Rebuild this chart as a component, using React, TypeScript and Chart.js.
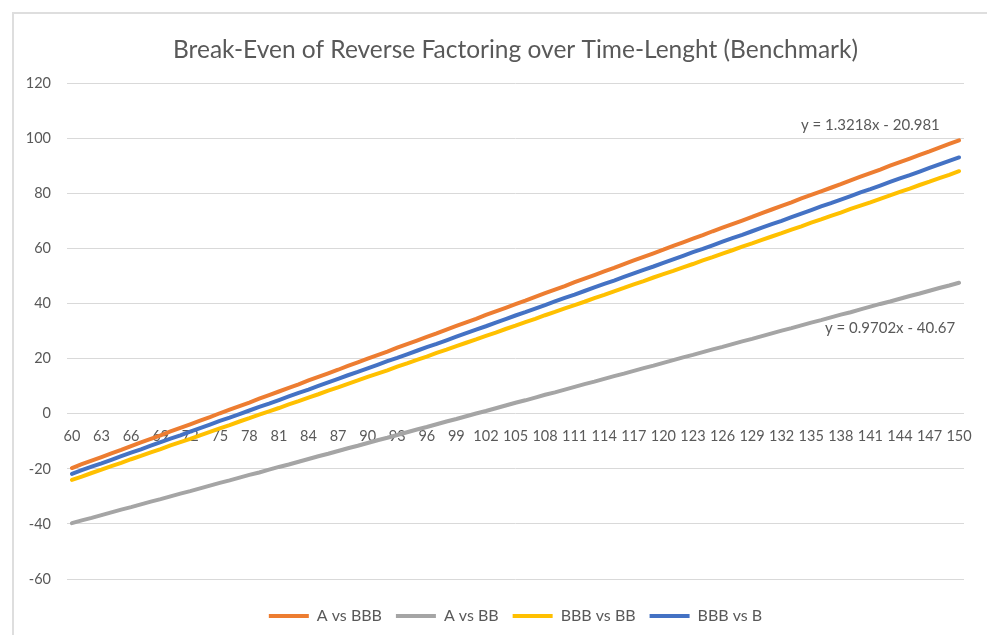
import React, { useEffect, useRef } from "react";
import { Chart, registerables } from "chart.js";

Chart.register(...registerables);

const TITLE = "Break-Even of Reverse Factoring over Time-Lenght (Benchmark)";

const categories = [
  60, 61, 62, 63, 64, 65, 66, 67, 68, 69,
  70, 71, 72, 73, 74, 75, 76, 77, 78, 79,
  80, 81, 82, 83, 84, 85, 86, 87, 88, 89,
  90, 91, 92, 93, 94, 95, 96, 97, 98, 99,
  100, 101, 102, 103, 104, 105, 106, 107, 108, 109,
  110, 111, 112, 113, 114, 115, 116, 117, 118, 119,
  120, 121, 122, 123, 124, 125, 126, 127, 128, 129,
  130, 131, 132, 133, 134, 135, 136, 137, 138, 139,
  140, 141, 142, 143, 144, 145, 146, 147, 148, 149,
  150,
];

const aVsBBB = [
  -19.7, -18.3, -17.0, -15.7, -14.4, -13.1, -11.7, -10.4, -9.1, -7.8,
  -6.4, -5.1, -3.8, -2.5, -1.2, 0.2, 1.5, 2.8, 4.1, 5.5,
  6.8, 8.1, 9.4, 10.7, 12.1, 13.4, 14.7, 16.0, 17.4, 18.7,
  20.0, 21.3, 22.6, 24.0, 25.3, 26.6, 27.9, 29.2, 30.6, 31.9,
  33.2, 34.5, 35.9, 37.2, 38.5, 39.8, 41.1, 42.5, 43.8, 45.1,
  46.4, 47.8, 49.1, 50.4, 51.7, 53.0, 54.4, 55.7, 57.0, 58.3,
  59.6, 61.0, 62.3, 63.6, 64.9, 66.3, 67.6, 68.9, 70.2, 71.5,
  72.9, 74.2, 75.5, 76.8, 78.2, 79.5, 80.8, 82.1, 83.4, 84.8,
  86.1, 87.4, 88.7, 90.1, 91.4, 92.7, 94.0, 95.3, 96.7, 98.0,
  99.3,
];

const aVsBB = [
  -39.7, -38.7, -37.8, -36.8, -35.8, -34.8, -33.9, -32.9, -31.9, -31.0,
  -30.0, -29.0, -28.1, -27.1, -26.1, -25.1, -24.2, -23.2, -22.2, -21.3,
  -20.3, -19.3, -18.4, -17.4, -16.4, -15.4, -14.5, -13.5, -12.5, -11.6,
  -10.6, -9.6, -8.7, -7.7, -6.7, -5.7, -4.8, -3.8, -2.8, -1.9,
  -0.9, 0.1, 1.0, 2.0, 3.0, 4.0, 4.9, 5.9, 6.9, 7.8,
  8.8, 9.8, 10.8, 11.7, 12.7, 13.7, 14.6, 15.6, 16.6, 17.5,
  18.5, 19.5, 20.5, 21.4, 22.4, 23.4, 24.3, 25.3, 26.3, 27.2,
  28.2, 29.2, 30.2, 31.1, 32.1, 33.1, 34.0, 35.0, 36.0, 36.9,
  37.9, 38.9, 39.9, 40.8, 41.8, 42.8, 43.7, 44.7, 45.7, 46.6,
  47.6,
];

const bbbVsBB = [
  -24.0, -22.8, -21.5, -20.3, -19.0, -17.8, -16.5, -15.3, -14.0, -12.8,
  -11.5, -10.3, -9.1, -7.8, -6.6, -5.3, -4.1, -2.8, -1.6, -0.3,
  0.9, 2.1, 3.4, 4.6, 5.9, 7.1, 8.4, 9.6, 10.9, 12.1,
  13.4, 14.6, 15.8, 17.1, 18.3, 19.6, 20.8, 22.1, 23.3, 24.6,
  25.8, 27.0, 28.3, 29.5, 30.8, 32.0, 33.3, 34.5, 35.8, 37.0,
  38.3, 39.5, 40.7, 42.0, 43.2, 44.5, 45.7, 47.0, 48.2, 49.5,
  50.7, 51.9, 53.2, 54.4, 55.7, 56.9, 58.2, 59.4, 60.7, 61.9,
  63.2, 64.4, 65.6, 66.9, 68.1, 69.4, 70.6, 71.9, 73.1, 74.4,
  75.6, 76.8, 78.1, 79.3, 80.6, 81.8, 83.1, 84.3, 85.6, 86.8,
  88.1,
];

const bbbVsB = [
  -21.8, -20.5, -19.2, -18.0, -16.7, -15.4, -14.1, -12.9, -11.6, -10.3,
  -9.0, -7.8, -6.5, -5.2, -3.9, -2.6, -1.4, -0.1, 1.2, 2.5,
  3.7, 5.0, 6.3, 7.6, 8.8, 10.1, 11.4, 12.7, 14.0, 15.2,
  16.5, 17.8, 19.1, 20.3, 21.6, 22.9, 24.2, 25.4, 26.7, 28.0,
  29.3, 30.6, 31.8, 33.1, 34.4, 35.7, 36.9, 38.2, 39.5, 40.8,
  42.1, 43.3, 44.6, 45.9, 47.2, 48.4, 49.7, 51.0, 52.3, 53.5,
  54.8, 56.1, 57.4, 58.7, 59.9, 61.2, 62.5, 63.8, 65.0, 66.3,
  67.6, 68.9, 70.1, 71.4, 72.7, 74.0, 75.3, 76.5, 77.8, 79.1,
  80.4, 81.6, 82.9, 84.2, 85.5, 86.7, 88.0, 89.3, 90.6, 91.9,
  93.1,
];

const seriesNames = ["A vs BBB", "A vs BB", "BBB vs BB", "BBB vs B"];
const seriesColors = ["#ED7D31", "#A5A5A5", "#FFC000", "#4472C4"];

const yMin = -60;
const yMax = 120;
const yStep = 20;
const xLabelEvery = 3;

// trendline equation labels, anchored in data coordinates
const trendLabelTexts = ["y = 1.3218x - 20.981", "y = 0.9702x - 40.67"];
const trendLabelCategories = [141, 143];
const trendLabelValues = [105, 31.2];

const FONT = "Lato, 'Noto Sans', sans-serif";
const TEXT_COLOR = "#595959";

const trendLabelPlugin = {
  id: "trendLabels",
  afterDatasetsDraw(chart: any) {
    const { ctx, scales } = chart;
    ctx.save();
    ctx.font = `15px ${FONT}`;
    ctx.fillStyle = TEXT_COLOR;
    ctx.textAlign = "center";
    ctx.textBaseline = "middle";
    trendLabelTexts.forEach((t, i) => {
      const idx = categories.indexOf(trendLabelCategories[i]);
      const x = scales.x.getPixelForValue(idx);
      const y = scales.y.getPixelForValue(trendLabelValues[i]);
      ctx.fillText(t, x, y);
    });
    ctx.restore();
  },
};

export default function App() {
  const ref = useRef<HTMLCanvasElement | null>(null);

  useEffect(() => {
    if (!ref.current) return;
    const data = [aVsBBB, aVsBB, bbbVsBB, bbbVsB];
    const chart = new Chart(ref.current, {
      type: "line",
      data: {
        labels: categories.map(String),
        datasets: data.map((d, i) => ({
          label: seriesNames[i],
          data: d,
          borderColor: seriesColors[i],
          backgroundColor: seriesColors[i],
          borderWidth: 4,
          borderCapStyle: "round",
          pointRadius: 0,
          pointStyle: "line",
          tension: 0,
          fill: false,
        })),
      },
      options: {
        animation: false,
        responsive: false,
        layout: { padding: { left: 13, right: 23, top: 13, bottom: 1 } },
        plugins: {
          title: {
            display: true,
            fullSize: false,
            text: TITLE,
            color: TEXT_COLOR,
            font: { family: FONT, size: 24.5, weight: "normal" },
            padding: { top: 22, bottom: 19 },
          },
          legend: {
            position: "bottom",
            fullSize: false,
            title: {
              display: true,
              text: " ",
              font: { family: FONT, size: 1 },
              padding: { top: 0, bottom: 13.8 },
            },
            labels: {
              usePointStyle: true,
              pointStyle: "line",
              pointStyleWidth: 40,
              padding: 14,
              color: TEXT_COLOR,
              font: { family: FONT, size: 16 },
            },
          },
          tooltip: { enabled: false },
        },
        scales: {
          x: {
            type: "category",
            offset: true,
            position: { y: 0 },
            grid: { display: false, drawTicks: false },
            border: { display: false },
            ticks: {
              autoSkip: false,
              maxRotation: 0,
              minRotation: 0,
              padding: 14,
              color: TEXT_COLOR,
              font: { family: FONT, size: 14.5 },
              callback: (_v: any, i: number) =>
                i % xLabelEvery === 0 ? String(categories[i]) : "",
            },
          },
          y: {
            min: yMin,
            max: yMax,
            ticks: {
              stepSize: yStep,
              padding: 16,
              color: TEXT_COLOR,
              font: { family: FONT, size: 14.5 },
            },
            grid: { color: "#D9D9D9", drawTicks: false, lineWidth: 1 },
            border: { display: false },
            afterFit: (s: any) => {
              s.width = 54;
            },
          },
        },
      } as any,
      plugins: [trendLabelPlugin],
    });
    return () => chart.destroy();
  }, []);

  return (
    <div
      style={{
        position: "absolute",
        left: 0,
        top: 0,
        width: 987,
        height: 635,
        background: "#fff",
        overflow: "hidden",
      }}
    >
      <div
        style={{
          position: "absolute",
          left: 12,
          top: 12,
          width: 1000,
          height: 700,
          borderLeft: "2px solid #DEDEDE",
          borderTop: "2px solid #DEDEDE",
        }}
      />
      <canvas
        ref={ref}
        width={987}
        height={635}
        style={{ position: "absolute", left: 0, top: 0, width: 987, height: 635 }}
      />
    </div>
  );
}
